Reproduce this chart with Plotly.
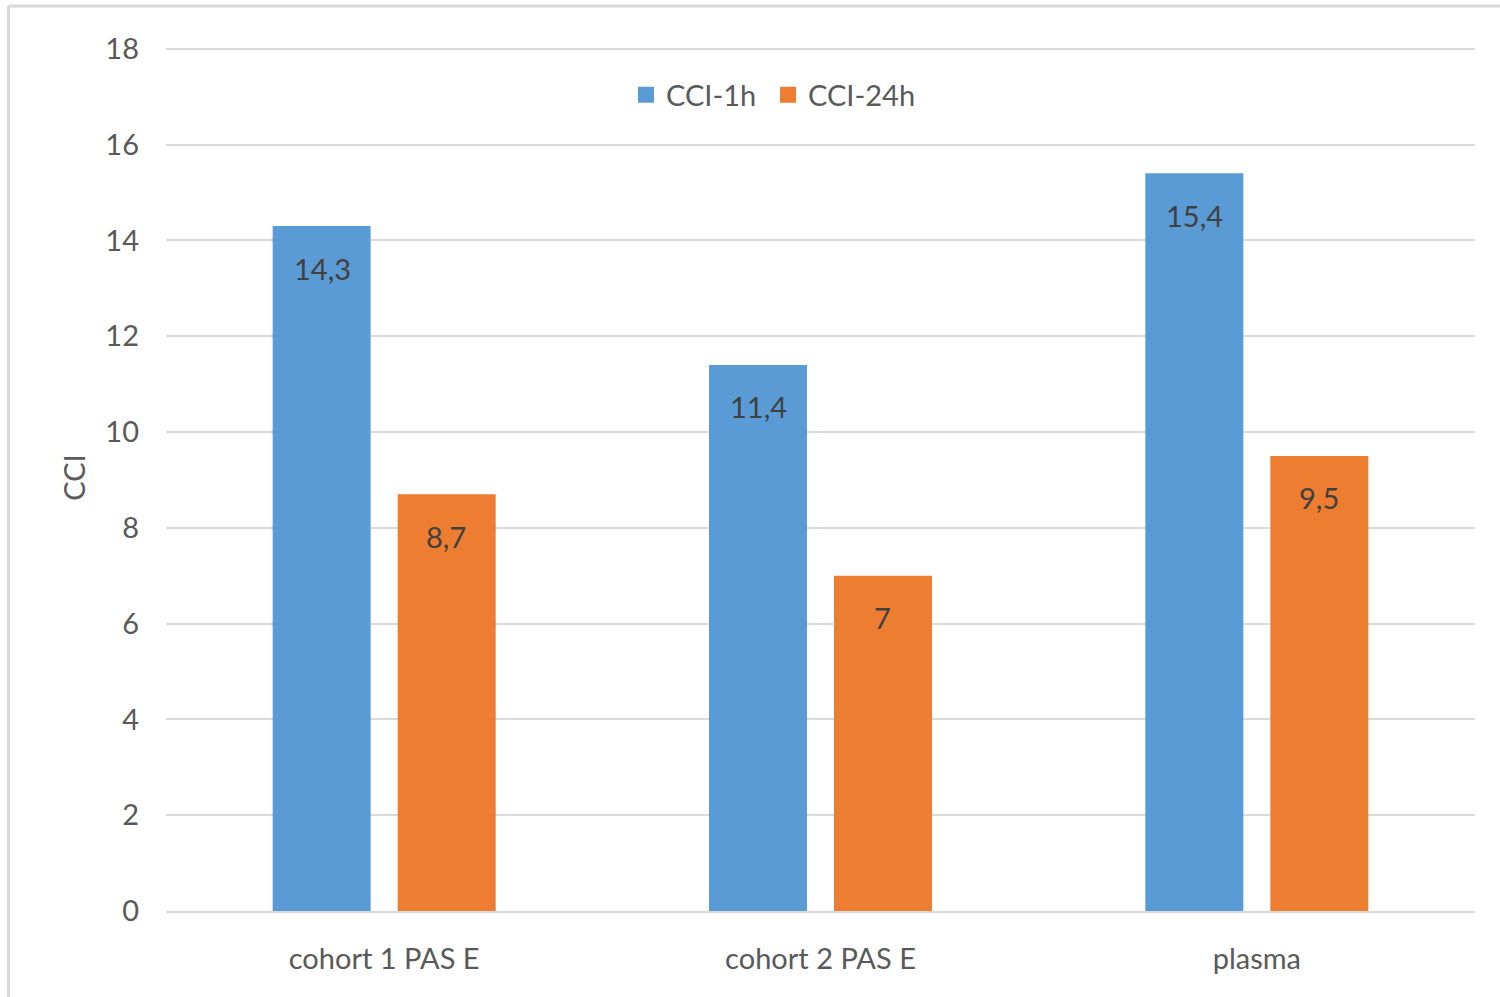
import plotly.graph_objects as go

categories = ["cohort 1 PAS E", "cohort 2 PAS E", "plasma"]
cci_1h = [14.3, 11.4, 15.4]
cci_24h = [8.7, 7.0, 9.5]
series_names = ["CCI-1h", "CCI-24h"]
y_ticks = [0, 2, 4, 6, 8, 10, 12, 14, 16, 18]

BLUE = "#5b9bd5"
ORANGE = "#ed7d31"
TEXT = "#595959"
LABEL = "#404040"
GRID = "#d9d9d9"
FONT = "Lato, 'Open Sans', sans-serif"

PLOT_H = 997 - 44 - 86  # plot area height in px

fig = go.Figure()
for name, vals, color, leg in ((series_names[0], cci_1h, BLUE, "legend"),
                               (series_names[1], cci_24h, ORANGE, "legend2")):
    fig.add_trace(go.Bar(x=categories, y=vals, name=name, showlegend=False,
                         marker=dict(color=color, line=dict(width=0))))
    # legend key: larger square swatch than the default bar key
    fig.add_trace(go.Scatter(x=[None], y=[None], mode="markers", name=name,
                             legend=leg,
                             marker=dict(symbol="square", size=16, color=color)))

# value labels just under each bar top, offset to each bar's slot in the group
annotations = []
for vals, shift in ((cci_1h, -62), (cci_24h, 62)):
    for cat, v in zip(categories, vals):
        annotations.append(dict(
            x=cat, y=v, xref="x", yref="y", xshift=shift, yshift=-42,
            text=f"{v:g}".replace(".", ","), showarrow=False,
            font=dict(family=FONT, size=29, color=LABEL)))

top = (911 - 6) / PLOT_H
left = (8.5 - 166) / 1309
legend_style = dict(orientation="h", xanchor="left", y=(911 - 95) / PLOT_H,
                    yanchor="middle", font=dict(size=29, color=TEXT),
                    bgcolor="rgba(0,0,0,0)")

fig.update_layout(
    width=1500, height=997,
    margin=dict(l=166, r=25, t=44, b=86),
    paper_bgcolor="white", plot_bgcolor="white",
    barmode="group", bargap=0.427, bargroupgap=0.216,
    font=dict(family=FONT, size=29, color=TEXT),
    showlegend=True,
    legend=dict(x=0.3514, **legend_style),
    legend2=dict(x=0.4599, **legend_style),
    annotations=annotations,
    shapes=[
        dict(type="line", xref="paper", yref="paper", x0=left, x1=1.02,
             y0=top, y1=top, line=dict(color=GRID, width=3)),
        dict(type="line", xref="paper", yref="paper", x0=left, x1=left,
             y0=top, y1=-0.11, line=dict(color=GRID, width=3)),
    ],
)

fig.update_xaxes(showgrid=False, showline=True, linecolor=GRID, linewidth=2,
                 ticks="", tickfont=dict(size=29, color=TEXT),
                 ticklabelstandoff=21)
fig.update_yaxes(range=[0, 18.1], tickvals=y_ticks, showgrid=True,
                 gridcolor=GRID, gridwidth=2, zeroline=False, showline=False,
                 ticks="", tickfont=dict(size=29, color=TEXT),
                 ticklabelstandoff=26,
                 title=dict(text="CCI", font=dict(size=29, color=TEXT),
                            standoff=11))

fig.write_html("out.html")
